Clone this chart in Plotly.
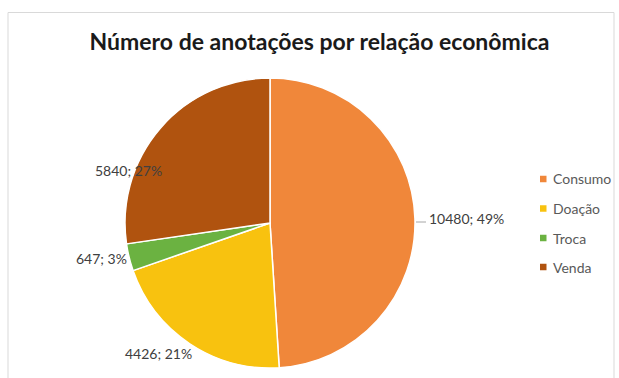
import plotly.graph_objects as go

# ---- data ----
categories = ["Consumo", "Doação", "Troca", "Venda"]
values = [10480, 4426, 647, 5840]
colors = ["#F0873A", "#F8C20F", "#6BB241", "#B0530F"]
title_text = "Número de anotações por relação econômica"

# ---- layout helpers (pixel positions in a 619x378 canvas) ----
W, H = 619, 378
def px(x):
    return x / W
def py(y):
    return 1 - y / H

total = sum(values)
pcts = [round(100 * v / total) for v in values]

# label anchor positions (left edge x, centre y) in pixels
label_pos = {"Consumo": (427, 218), "Doação": (123, 353), "Troca": (74, 258), "Venda": (93, 171)}
legend_rows_y = [179, 208.5, 238, 267]

cx, cy, r = 270, 223, 145

fig = go.Figure()
fig.add_trace(go.Pie(
    labels=categories,
    values=values,
    sort=False,
    direction="clockwise",
    rotation=0,
    marker=dict(colors=colors, line=dict(color="white", width=1.5)),
    textinfo="none",
    hoverinfo="label+value+percent",
    showlegend=False,
    domain=dict(x=[px(cx - r), px(cx + r)], y=[py(cy + r), py(cy - r)]),
))

annotations = []
for cat, v, p in zip(categories, values, pcts):
    x, y = label_pos[cat]
    annotations.append(dict(
        x=px(x), y=py(y), xref="paper", yref="paper",
        xanchor="left", yanchor="middle", showarrow=False,
        text=f"{v}; {p}%",
        font=dict(family="Lato", size=14, color="#404040"),
    ))

shapes = []
# leader line for the Consumo label
shapes.append(dict(type="line", xref="paper", yref="paper",
                   x0=px(416), x1=px(426), y0=py(222), y1=py(222),
                   line=dict(color="#A6A6A6", width=1)))

# legend (custom, small square markers)
for cat, col, ly in zip(categories, colors, legend_rows_y):
    shapes.append(dict(type="rect", xref="paper", yref="paper",
                       x0=px(540), x1=px(546.5), y0=py(ly + 3.25), y1=py(ly - 3.25),
                       fillcolor=col, line=dict(width=0)))
    annotations.append(dict(
        x=px(551), y=py(ly), xref="paper", yref="paper",
        xanchor="left", yanchor="middle", showarrow=False,
        text=cat, font=dict(family="Lato", size=14, color="#595959"),
    ))

# chart border
shapes.append(dict(type="rect", xref="paper", yref="paper",
                   x0=px(8), x1=px(614), y0=-0.1, y1=py(12.5),
                   line=dict(color="#D9D9D9", width=1), fillcolor="rgba(0,0,0,0)", layer="below"))

fig.update_layout(
    width=W, height=H,
    margin=dict(l=0, r=0, t=0, b=0),
    paper_bgcolor="white",
    plot_bgcolor="white",
    title=dict(text=title_text, x=px(319.5), xanchor="center", y=py(42), yanchor="middle",
               xref="paper", yref="paper",
               font=dict(family="Lato", size=23, color="#1A1A1A", weight="bold")),
    annotations=annotations,
    shapes=shapes,
)

fig.write_html("out.html")
